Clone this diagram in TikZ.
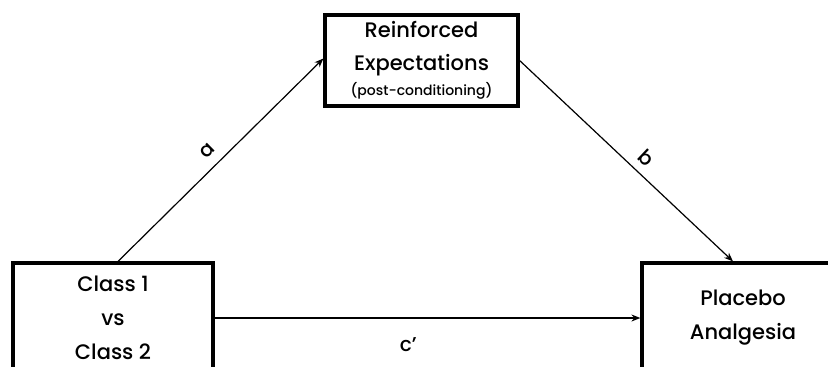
\documentclass[tikz,border=0pt]{standalone}
\usepackage{fontspec}
\setmainfont{Poppins}[UprightFont={* Medium}]
\usetikzlibrary{arrows.meta}
\tikzset{
  varbox/.style={draw=black, line width=3.2pt, fill=white, align=center,
    font=\fontsize{21}{34}\selectfont, inner sep=0pt},
  path link/.style={line width=1.2pt, -{Stealth[length=9pt,width=7pt]}},
  path label/.style={font=\fontsize{20}{24}\selectfont, inner sep=1pt}
}
\begin{document}
\begin{tikzpicture}[x=1pt,y=-1pt]
  \useasboundingbox (0,0) rectangle (828,367);
  \clip (0,0) rectangle (828,367);

  % mediator, predictor and outcome
  \node[varbox, minimum width=193pt, minimum height=91pt] (med) at (421.5,60.5)
    {Reinforced\\[-1pt]Expectations\\[-9pt]{\fontsize{14}{16}\selectfont (post-conditioning)}};
  \node[varbox, minimum width=200pt, minimum height=110pt] (pred) at (113,318)
    {Class 1\\vs\\Class 2};
  \node[varbox, minimum width=202pt, minimum height=110pt] (out) at (743,318)
    {Placebo\\Analgesia};

  % paths of the mediation model
  \draw[path link] ([xshift=5pt]pred.north) -- ([yshift=2pt]med.west)
    node[path label, pos=0.49, sloped, above=9pt] (la) {a};
  \draw[path link] (med.east) -- ([xshift=-10pt]out.north)
    node[path label, pos=0.545, sloped, above=7pt] (lb) {b};
  \draw[path link] (pred.east) -- (out.west)
    node[path label, pos=0.455, below=18pt] (lc) {c’};
\end{tikzpicture}
\end{document}
